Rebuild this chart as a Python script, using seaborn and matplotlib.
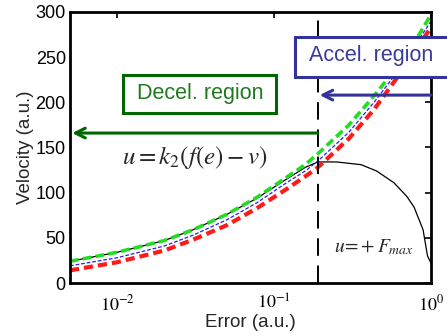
import numpy as np
import pandas as pd
import matplotlib
matplotlib.use("Agg")
import matplotlib.pyplot as plt
import seaborn as sns
from matplotlib.patches import Rectangle

# values
error = [0.005, 0.01, 0.02, 0.0305, 0.05, 0.078, 0.12, 0.158, 0.19,
         0.3, 0.433, 0.6, 0.8, 1.0]
vel_green = [24, 34, 47, 59, 76, 95, 117, 131, 143, 175, 207, 238, 269, 297]
vel_blue = [19, 28, 41, 53, 70, 89, 111, 124, 135, 167, 200, 232, 264, 290]
vel_red = [14, 23, 36, 48, 64, 83, 104, 118, 128, 160, 192, 226, 258, 283]

error_black = [0.005, 0.01, 0.02, 0.0305, 0.05, 0.078, 0.12, 0.158, 0.19,
               0.25, 0.358, 0.45, 0.58, 0.7, 0.78, 0.89, 0.95, 1.0]
vel_black = [24, 34, 47, 59, 76, 94, 115, 128, 134,
             134, 131, 124, 111, 96, 84, 59, 30, 22]

switch_error = 0.19
y_ticks = [0, 50, 100, 150, 200, 250, 300]
x_ticks = [0.01, 0.1, 1.0]
x_tick_labels = ["$10^{-2}$", "$10^{-1}$", "$10^{0}$"]

sns.set_style("white")
plt.rcParams['font.family'] = ['Liberation Sans', 'DejaVu Sans']
plt.rcParams['mathtext.fontset'] = 'stix'

W, H = 447, 336
fig = plt.figure(figsize=(W / 100, H / 100), dpi=100)
ax = fig.add_axes([70 / W, 53 / H, 361 / W, 271 / H])

# curves
sns.lineplot(x=error_black, y=vel_black, ax=ax, color="black", lw=0.9,
             estimator=None, sort=False)
sns.lineplot(x=error, y=vel_red, ax=ax, color="#ff1a1a", lw=3.0,
             estimator=None, linestyle=(0, (2.2, 1.2)))
sns.lineplot(x=error, y=vel_blue, ax=ax, color="#2020ff", lw=0.9,
             estimator=None, linestyle=(0, (3, 1.5)))
sns.lineplot(x=error, y=vel_green, ax=ax, color="#22dd22", lw=2.6,
             estimator=None, linestyle=(0, (2.4, 1.2)))

ax.axvline(switch_error, color="black", lw=1.4, dashes=(9, 5))

ax.set_xscale("log")
ax.set_xlim(0.005, 1.0)
ax.set_ylim(0, 300)
ax.set_xticks(x_ticks)
ax.set_xticklabels(x_tick_labels)
ax.xaxis.set_minor_locator(matplotlib.ticker.NullLocator())
ax.set_yticks(y_ticks)
ax.tick_params(direction="in", top=True, right=True, length=4, width=1.2,
               labelsize=13, colors="black", pad=3)
ax.tick_params(axis="x", pad=8)
for s in ax.spines.values():
    s.set_linewidth(2)
    s.set_color("black")

ax.set_xlabel("Error (a.u.)", fontsize=13.5, labelpad=0)
ax.set_ylabel("Velocity (a.u.)", fontsize=13.5, labelpad=1)

# formulas
ax.text(0.031, 139, r"$u = k_2(f(e) - v)$", fontsize=18, ha="center",
        va="center")
ax.text(0.43, 40, r"$u\!=\!+F_{max}$", fontsize=14, ha="center",
        va="center")

# region boxes (pixel positions)
def fx(x):
    return x / W

def fy(y):
    return 1 - y / H

fig.patches.append(Rectangle((fx(123), fy(113)), fx(276) - fx(123),
                             fy(75) - fy(113), transform=fig.transFigure,
                             fill=True, facecolor="white", edgecolor="#006600",
                             lw=2.2, zorder=5))
fig.text(fx(200), fy(94), "Decel. region", color="#1f7a1f", fontsize=15.5,
         ha="center", va="center", zorder=6)

fig.patches.append(Rectangle((fx(295), fy(77)), fx(460) - fx(295),
                             fy(37) - fy(77), transform=fig.transFigure,
                             fill=True, facecolor="white", edgecolor="#333399",
                             lw=2.2, zorder=5, clip_on=False))
fig.text(fx(371), fy(56), "Accel. region", color="#3a3a99", fontsize=15.5,
         ha="center", va="center", zorder=6)

# arrows
ax.annotate("", xy=(0.00516, 166), xytext=(switch_error, 166),
            arrowprops=dict(arrowstyle="->,head_length=0.7,head_width=0.35",
                            color="#006600", lw=2.2, shrinkA=0, shrinkB=0))
ax.annotate("", xy=(0.195, 208), xytext=(1.0, 208),
            arrowprops=dict(arrowstyle="->,head_length=0.7,head_width=0.35",
                            color="#333399", lw=2.2, shrinkA=0, shrinkB=0))

fig.savefig("out.png", dpi=100)
